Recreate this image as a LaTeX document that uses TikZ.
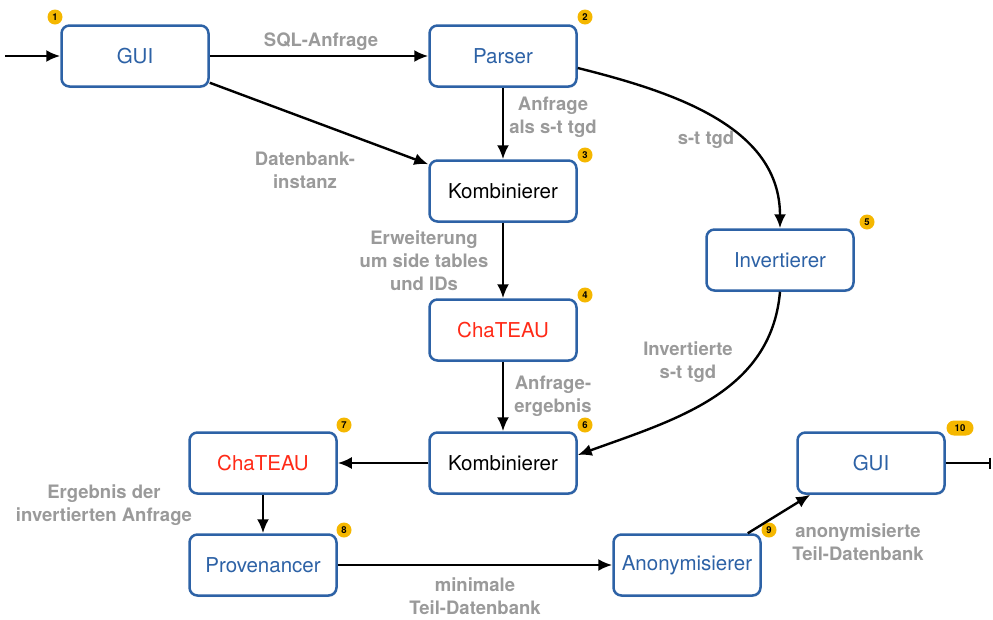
\documentclass[tikz,border=0pt]{standalone}
\usepackage{fontspec}
\setmainfont{TeX Gyre Heros}
\usetikzlibrary{arrows.meta,shadows}
\definecolor{boxblue}{HTML}{2D62A6}
\definecolor{chred}{HTML}{FF2A17}
\definecolor{lblgray}{HTML}{9A9A9A}
\definecolor{badgeyellow}{HTML}{F5B700}
\tikzset{
	block/.style={draw=boxblue, line width=2.5pt, rounded corners=8pt, fill=white,
		minimum width=147pt, minimum height=61pt, font=\fontsize{20.5}{24}\selectfont,
		drop shadow={opacity=0.2, shadow xshift=0.8pt, shadow yshift=-1.5pt}},
	lbl/.style={text=lblgray, font=\fontsize{18.5}{23}\selectfont\bfseries, align=center},
	badge/.style={circle, fill=badgeyellow, inner sep=0pt, minimum size=15pt,
		font=\fontsize{9.5}{9.5}\selectfont\bfseries},
	flow/.style={line width=2.4pt, arrows={-Latex[length=14pt,width=12pt]}},
}

\begin{document}
\begin{tikzpicture}[x=1pt, y=-1pt]
	\useasboundingbox (0,0) rectangle (993,619);
	% boxes
	\node[block, text=boxblue] (gui) at (135,56) {GUI};
	\node[block, text=boxblue] (parser) at (503,56) {Parser};
	\node[block] (komb) at (503,191) {Kombinierer};
	\node[block, text=chred] (chateau) at (503,330) {ChaTEAU};
	\node[block, text=boxblue] (inv) at (780,260) {Invertierer};
	\node[block] (kombinv) at (503,463) {Kombinierer};
	\node[block, text=chred] (chateauinv) at (263,463) {ChaTEAU};
	\node[block, text=boxblue] (prov) at (263,565) {Provenancer};
	\node[block, text=boxblue] (anon) at (687,565) {Anonymisierer};
	\node[block, text=boxblue] (guiout) at (871,463) {GUI};
	% numbers
	\node[badge] (b1) at (55,17) {1};
	\node[badge] (b2) at (585,17) {2};
	\node[badge] (b3) at (585,155) {3};
	\node[badge] (b4) at (585,295) {4};
	\node[badge] (b5) at (867,222) {5};
	\node[badge] (b6) at (585,425) {6};
	\node[badge] (b7) at (344,425) {7};
	\node[badge] (b8) at (344,530) {8};
	\node[badge] (b9) at (769,530) {9};
	\node[badge, rectangle, rounded corners=7.5pt, minimum width=27pt] (b10) at (960,428) {10};
	% connectors
	\coordinate (in) at (5,56);
	\coordinate (out) at (991,463);
	\draw[flow] (in) -- (gui.west);
	\draw[flow] (gui.east) -- (parser.west);
	\draw[flow] ([yshift=5pt]gui.south east) -- ([yshift=-5pt]komb.north west);
	\draw[flow] (parser.south) -- (komb.north);
	\draw[flow] ([yshift=-12pt]parser.east) to[out=-14, in=90] (inv.north);
	\draw[flow] (komb.south) -- (chateau.north);
	\draw[flow] (chateau.south) -- (kombinv.north);
	\draw[flow] (inv.south) to[out=-95, in=20] ([yshift=8pt]kombinv.east);
	\draw[flow] (kombinv.west) -- (chateauinv.east);
	\draw[flow] (chateauinv.south) -- (prov.north);
	\draw[flow] (prov.east) -- (anon.west);
	\draw[flow] ([xshift=-14pt]anon.north east) -- ([xshift=14pt]guiout.south west);
	\draw[line width=2.4pt, arrows={-Bar[width=11pt]}] (guiout.east) -- (out);
	% labels
	\node[lbl] (l1) at (321,42) {SQL-Anfrage};
	\node[lbl] (l2) at (305,170) {Datenbank-\\instanz};
	\node[lbl] (l3) at (553,117) {Anfrage\\als s-t tgd};
	\node[lbl] (l4) at (706,140) {s-t tgd};
	\node[lbl] (l5) at (424,261) {Erweiterung\\um side tables\\und IDs};
	\node[lbl] (l6) at (553,396) {Anfrage-\\ergebnis};
	\node[lbl] (l7) at (688,362) {Invertierte\\s-t tgd};
	\node[lbl] (l8) at (104,505) {Ergebnis der\\invertierten Anfrage};
	\node[lbl] (l9) at (475,596) {minimale\\Teil-Datenbank};
	\node[lbl] (l10) at (858,542) {anonymisierte\\Teil-Datenbank};
\end{tikzpicture}
\end{document}
